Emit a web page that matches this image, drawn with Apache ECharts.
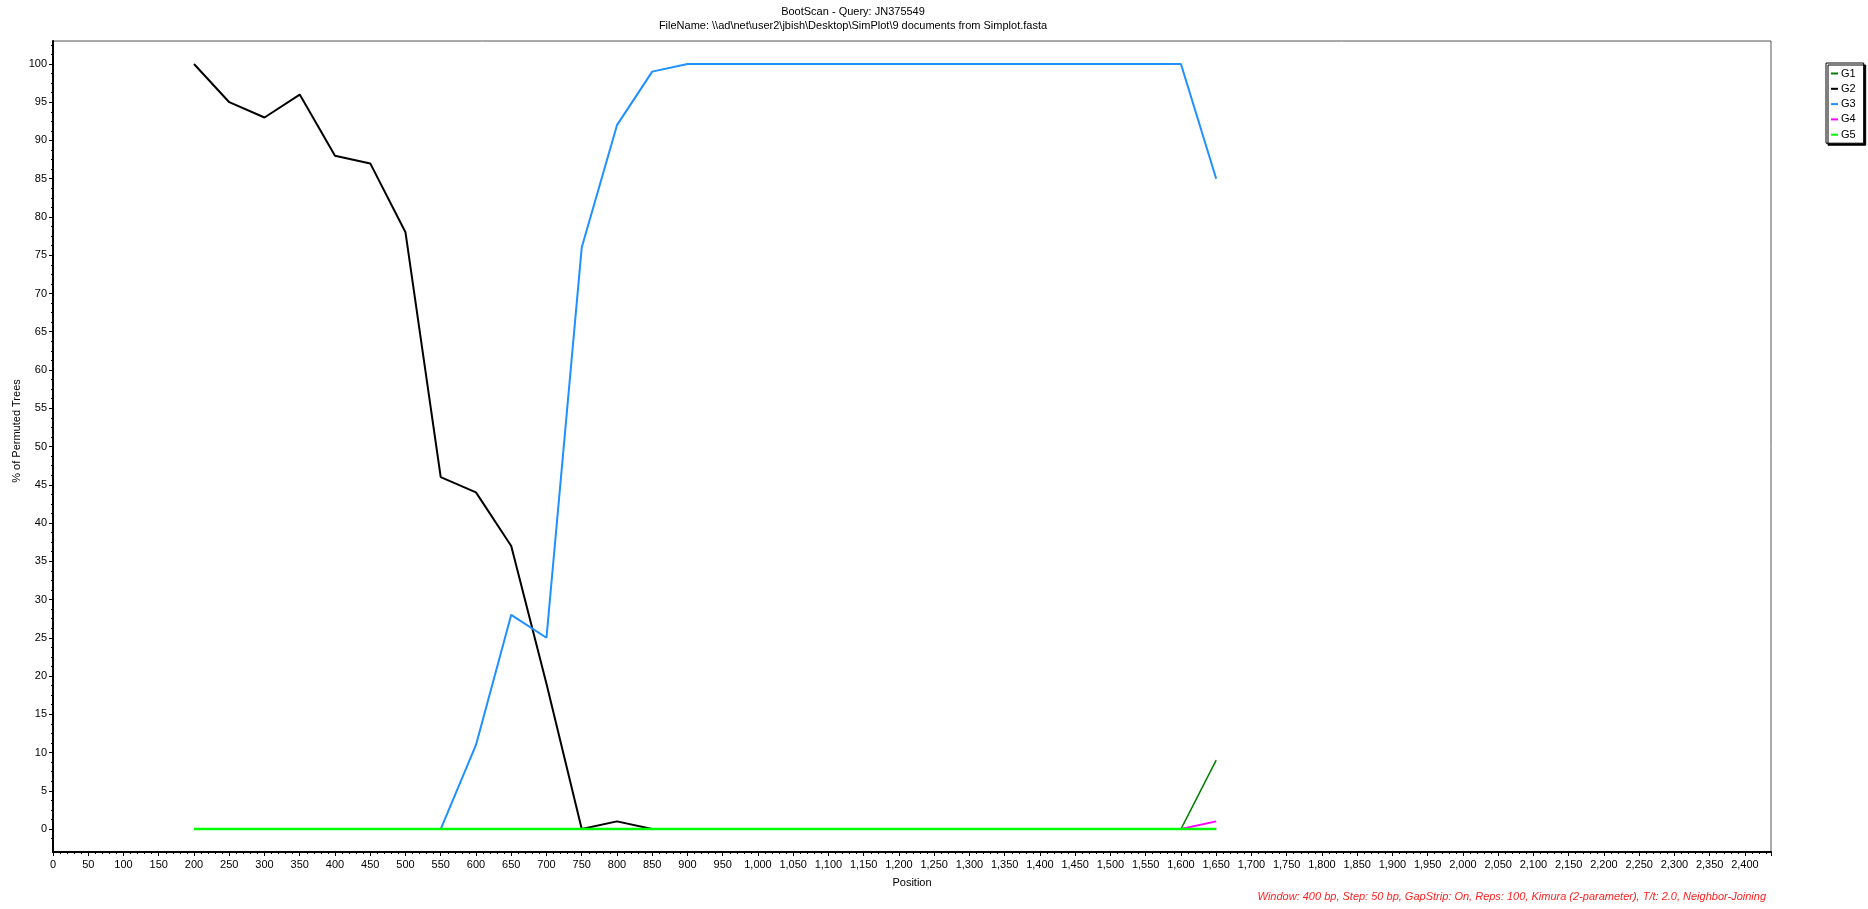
<!DOCTYPE html>
<html>
<head>
<meta charset="utf-8">
<title>BootScan</title>
<script src="https://cdn.jsdelivr.net/npm/echarts@6/dist/echarts.min.js"></script>
<style>
    html, body { margin: 0; padding: 0; background: #fff; }
    #chart { width: 1868px; height: 909px; }
</style>
</head>
<body>
<div id="chart"></div>
<script>
// positions (bp) of the scan windows
const positions = [200, 250, 300, 350, 400, 450, 500, 550, 600, 650, 700, 750, 800, 850, 900,
    950, 1000, 1050, 1100, 1150, 1200, 1250, 1300, 1350, 1400, 1450, 1500, 1550, 1600, 1650];

// % of permuted trees for each group
const g1 = [0, 0, 0, 0, 0, 0, 0, 0, 0, 0, 0, 0, 0, 0, 0, 0, 0, 0, 0, 0, 0, 0, 0, 0, 0, 0, 0, 0, 0, 9];
const g2 = [100, 95, 93, 96, 88, 87, 78, 46, 44, 37, 19, 0, 1, 0, 0, 0, 0, 0, 0, 0, 0, 0, 0, 0, 0, 0, 0, 0, 0, 0];
const g3 = [0, 0, 0, 0, 0, 0, 0, 0, 11, 28, 25, 76, 92, 99, 100, 100, 100, 100, 100, 100, 100, 100, 100, 100, 100, 100, 100, 100, 100, 85];
const g4 = [0, 0, 0, 0, 0, 0, 0, 0, 0, 0, 0, 0, 0, 0, 0, 0, 0, 0, 0, 0, 0, 0, 0, 0, 0, 0, 0, 0, 0, 1];
const g5 = [0, 0, 0, 0, 0, 0, 0, 0, 0, 0, 0, 0, 0, 0, 0, 0, 0, 0, 0, 0, 0, 0, 0, 0, 0, 0, 0, 0, 0, 0];

const groupNames = ["G1", "G2", "G3", "G4", "G5"];
const groupColors = ["#008000", "#000000", "#1e90ff", "#ff00ff", "#00ff00"];
const groupWidths = [1.5, 2, 2, 2, 2.5];

// y tick labels
const yTicks = [0, 5, 10, 15, 20, 25, 30, 35, 40, 45, 50, 55, 60, 65, 70, 75, 80, 85, 90, 95, 100];
const yMinorTicks = [];
yTicks.forEach((t) => {
    [1.25, 2.5, 3.75].forEach((d) => yMinorTicks.push(t + d));
    yMinorTicks.push(t - 1.25);
});

const font = "'Liberation Sans', Arial, sans-serif";

const chart = echarts.init(document.getElementById("chart"));

const series = [g1, g2, g3, g4, g5].map((vals, i) => ({
    name: groupNames[i],
    type: "line",
    symbol: "none",
    animation: false,
    color: groupColors[i],
    lineStyle: { width: groupWidths[i], color: groupColors[i] },
    data: positions.map((p, j) => [p, vals[j]])
}));

chart.setOption({
    backgroundColor: "#fff",
    animation: false,
    textStyle: { fontFamily: font },
    title: {
        text: "BootScan - Query: JN375549",
        subtext: "FileName: \\\\ad\\net\\user2\\jbish\\Desktop\\SimPlot\\9 documents from Simplot.fasta",
        left: 853,
        top: 6,
        textAlign: "center",
        itemGap: 3,
        padding: 0,
        textStyle: { fontSize: 11, fontWeight: "normal", color: "#000", fontFamily: font },
        subtextStyle: { fontSize: 11, color: "#000", fontFamily: font }
    },
    legend: {
        data: groupNames.map((n) => ({ name: n, icon: "rect" })),
        orient: "vertical",
        left: 1826,
        top: 63,
        itemWidth: 7,
        itemHeight: 2,
        itemGap: 4.3,
        padding: [5, 8, 3, 5],
        backgroundColor: "#fff",
        borderColor: "#000",
        borderWidth: 1,
        shadowColor: "#000",
        shadowBlur: 0,
        shadowOffsetX: 2,
        shadowOffsetY: 2,
        selectedMode: false,
        itemStyle: { borderWidth: 0 },
        lineStyle: { width: 0 },
        textStyle: { fontSize: 11, lineHeight: 10, color: "#000", fontFamily: font, padding: [0, 0, 0, -2] }
    },
    grid: {
        left: 53,
        right: 97,
        top: 41,
        bottom: 57,
        show: true,
        borderColor: "#555",
        borderWidth: 1
    },
    xAxis: {
        type: "value",
        min: 0,
        max: 2437,
        interval: 50,
        name: "Position",
        nameLocation: "middle",
        nameGap: 25,
        nameTextStyle: { fontSize: 11, color: "#000", fontFamily: font },
        axisLine: { show: true, onZero: false, lineStyle: { color: "#000", width: 2 } },
        axisTick: { show: true, length: 4, lineStyle: { color: "#000" } },
        minorTick: { show: true, splitNumber: 5, length: 2, lineStyle: { color: "#000" } },
        axisLabel: { fontSize: 11, color: "#000", margin: 7, showMaxLabel: false, fontFamily: font },
        splitLine: { show: false }
    },
    yAxis: [
        {
            type: "value",
            min: -3,
            max: 103,
            position: "left",
            axisLine: { show: true, onZero: false, lineStyle: { color: "#000", width: 2 } },
            axisTick: { show: true, length: 4, customValues: yTicks, lineStyle: { color: "#000" } },
            axisLabel: { fontSize: 11, color: "#000", margin: 6, customValues: yTicks, fontFamily: font },
            splitLine: { show: false }
        },
        {
            type: "value",
            min: -3,
            max: 103,
            position: "left",
            axisLine: { show: false, onZero: false },
            axisTick: { show: true, length: 2, customValues: yMinorTicks, lineStyle: { color: "#000" } },
            axisLabel: { show: false },
            splitLine: { show: false }
        }
    ],
    graphic: [
        {
            type: "text",
            x: 17,
            y: 431,
            rotation: Math.PI / 2,
            style: {
                text: "% of Permuted Trees",
                fontSize: 11,
                fontFamily: font,
                fill: "#000",
                align: "center",
                verticalAlign: "middle"
            }
        },
        {
            type: "text",
            right: 102,
            top: 891,
            style: {
                text: "Window: 400 bp, Step: 50 bp, GapStrip: On, Reps: 100, Kimura (2-parameter), T/t: 2.0, Neighbor-Joining",
                fontSize: 11,
                fontStyle: "italic",
                fontFamily: font,
                fill: "#ff2020"
            }
        }
    ],
    series
});
</script>
</body>
</html>
